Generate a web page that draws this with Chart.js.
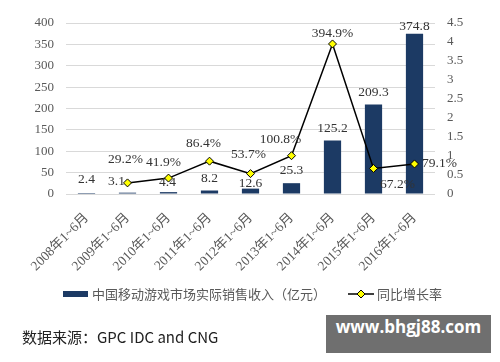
<!DOCTYPE html>
<html>
<head>
<meta charset="utf-8">
<script src="https://cdn.jsdelivr.net/npm/chart.js@4/dist/chart.umd.min.js"></script>
<style>
  body { margin: 0; background: #fff; }
  #wrap { position: relative; width: 500px; height: 362px; }
  #source {
    position: absolute; left: 22px; top: 326px;
    font: 15px "Noto Sans CJK SC", "Noto Sans", sans-serif; color: #222;
  }
  #mark {
    position: absolute; left: 326px; top: 315px; width: 165px; height: 38px;
    background: #6f6f6f; color: #fff; text-align: center; line-height: 38px;
    font: bold 17px "Open Sans", "DejaVu Sans", sans-serif;
  }
</style>
</head>
<body>
<div id="wrap">
  <canvas id="chart" width="500" height="362"></canvas>
  <div id="source">数据来源：GPC IDC and CNG</div>
  <div id="mark">www.bhgj88.com</div>
</div>
<script>
const categories = ["2008年1~6月", "2009年1~6月", "2010年1~6月", "2011年1~6月", "2012年1~6月",
  "2013年1~6月", "2014年1~6月", "2015年1~6月", "2016年1~6月"]
const revenue = [2.4, 3.1, 4.4, 8.2, 12.6, 25.3, 125.2, 209.3, 374.8]
const growth = [null, 0.292, 0.419, 0.864, 0.537, 1.008, 3.949, 0.672, 0.791]
const growthLabels = ["", "29.2%", "41.9%", "86.4%", "53.7%", "100.8%", "394.9%", "67.2%", "79.1%"]
const seriesNames = ["中国移动游戏市场实际销售收入（亿元）", "同比增长率"]

// label nudges in px [dx, dy] relative to bar top / point
const barLabelOffsets = [[0, -14], [-11, -11], [-1, -10], [0, -12], [0, -5], [0, -13], [0, -12], [0, -12], [0, -7]]
const lineLabelOffsets = [[0, 0], [-2, -23], [-5, -16], [-6, -18], [-2, -19], [-11, -16], [0, -10], [24, 16], [25, 0]]

const NAVY = "#1c3a64"
const valueFont = "13.5px 'Liberation Serif', 'DejaVu Serif', serif"

const valueLabels = {
  id: "valueLabels",
  afterDatasetsDraw(chart) {
    const ctx = chart.ctx
    ctx.save()
    ctx.font = valueFont
    ctx.fillStyle = "#333"
    ctx.textAlign = "center"
    ctx.textBaseline = "middle"
    chart.getDatasetMeta(0).data.forEach((bar, i) => {
      const [dx, dy] = barLabelOffsets[i]
      ctx.fillText(String(revenue[i]), bar.x + dx, bar.y + dy)
    })
    chart.getDatasetMeta(1).data.forEach((pt, i) => {
      if (growth[i] == null) return
      const [dx, dy] = lineLabelOffsets[i]
      ctx.fillText(growthLabels[i], pt.x + dx, pt.y + dy)
    })
    ctx.restore()
  }
}

const customLegend = {
  id: "customLegend",
  afterDraw(chart) {
    const ctx = chart.ctx
    const y = 294
    ctx.save()
    ctx.fillStyle = NAVY
    ctx.fillRect(63, y - 3, 25, 6)
    ctx.font = "13px 'Noto Sans CJK SC', sans-serif"
    ctx.fillStyle = "#595959"
    ctx.textBaseline = "middle"
    ctx.fillText(seriesNames[0], 92, y)
    ctx.strokeStyle = "#000"
    ctx.lineWidth = 1.5
    ctx.beginPath()
    ctx.moveTo(348, y)
    ctx.lineTo(374, y)
    ctx.stroke()
    ctx.beginPath()
    ctx.moveTo(361, y - 4)
    ctx.lineTo(365, y)
    ctx.lineTo(361, y + 4)
    ctx.lineTo(357, y)
    ctx.closePath()
    ctx.fillStyle = "#ffff00"
    ctx.fill()
    ctx.lineWidth = 1
    ctx.stroke()
    ctx.fillStyle = "#595959"
    ctx.fillText(seriesNames[1], 377, y)
    ctx.restore()
  }
}

const tickFont = { family: "'Liberation Serif', 'DejaVu Serif', serif", size: 13 }

new Chart(document.getElementById("chart"), {
  data: {
    labels: categories,
    datasets: [
      {
        type: "bar",
        label: seriesNames[0],
        data: revenue,
        yAxisID: "y",
        backgroundColor: NAVY,
        categoryPercentage: 1,
        barPercentage: 0.42,
        order: 1
      },
      {
        type: "line",
        label: seriesNames[1],
        data: growth,
        yAxisID: "y1",
        borderColor: "#000",
        borderWidth: 1.5,
        pointStyle: "rectRot",
        pointRadius: 4,
        pointBackgroundColor: "#ffff00",
        pointBorderColor: "#000",
        pointBorderWidth: 1,
        tension: 0,
        order: 0
      }
    ]
  },
  options: {
    responsive: false,
    animation: false,
    devicePixelRatio: 1,
    layout: { padding: { top: 23, left: 0, right: 0, bottom: 0 } },
    plugins: { legend: { display: false }, tooltip: { enabled: false } },
    scales: {
      x: {
        grid: { display: false, drawTicks: false },
        border: { display: false },
        ticks: {
          maxRotation: 45, minRotation: 45, padding: 16, color: "#595959",
          font: { family: "'Liberation Serif', 'Noto Sans CJK SC', serif", size: 13.5 }
        },
        afterFit: s => { s.height = 168 }
      },
      y: {
        position: "left",
        min: 0, max: 400,
        grid: { color: "#d9d9d9", drawTicks: false },
        border: { display: false },
        ticks: { stepSize: 50, padding: 12, color: "#595959", font: tickFont },
        afterFit: s => { s.width = 66 }
      },
      y1: {
        position: "right",
        min: 0, max: 4.5,
        grid: { drawOnChartArea: false, drawTicks: false },
        border: { display: false },
        ticks: {
          stepSize: 0.5, padding: 12, color: "#595959", font: tickFont,
          callback: v => String(Math.round(v * 10) / 10)
        },
        afterFit: s => { s.width = 65 }
      }
    }
  },
  plugins: [valueLabels, customLegend]
})
</script>
</body>
</html>
